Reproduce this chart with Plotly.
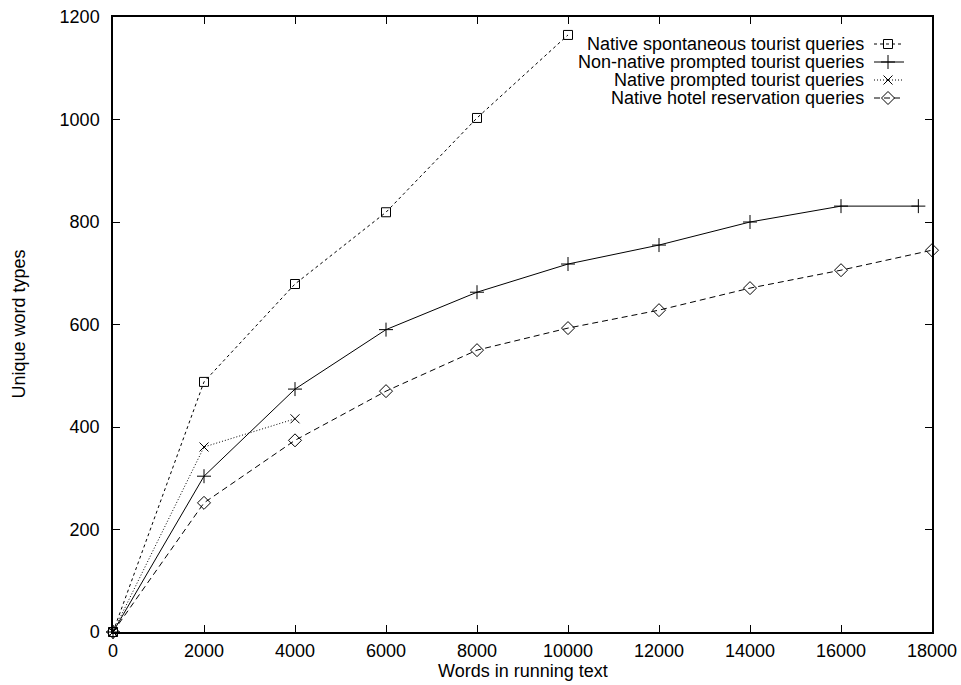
import plotly.graph_objects as go

# Vocabulary growth: unique word types vs. running words
x_spont = [0, 2000, 4000, 6000, 8000, 10000]
y_spont = [0, 488, 679, 819, 1003, 1165]

x_nonnative = [0, 2000, 4000, 6000, 8000, 10000, 12000, 14000, 16000, 17700]
y_nonnative = [0, 304, 474, 590, 663, 718, 755, 800, 831, 831]

x_prompted = [0, 2000, 4000]
y_prompted = [0, 361, 416]

x_hotel = [0, 2000, 4000, 6000, 8000, 10000, 12000, 14000, 16000, 18000]
y_hotel = [0, 252, 374, 470, 550, 593, 628, 671, 706, 745]

names = [
    "Native spontaneous tourist queries",
    "Non-native prompted tourist queries",
    "Native prompted tourist queries",
    "Native hotel reservation queries",
]
x_ticks = list(range(0, 18001, 2000))
x_ticktext = [str(v) for v in x_ticks]
y_ticks = list(range(0, 1201, 200))
y_ticktext = [str(v) for v in y_ticks]

FONT = "Liberation Sans, Arial, sans-serif"
FS = 18
styles = [
    dict(dash="3px,3px", symbol="square-open", size=9),
    dict(dash="solid", symbol="cross-thin-open", size=10),
    dict(dash="1px,2px", symbol="x-thin-open", size=9),
    dict(dash="6px,4px", symbol="diamond-open", size=10),
]
series = [(x_spont, y_spont), (x_nonnative, y_nonnative),
          (x_prompted, y_prompted), (x_hotel, y_hotel)]

fig = go.Figure()
for (xs, ys), name, st in zip(series, names, styles):
    fig.add_trace(go.Scatter(
        x=xs, y=ys, name=name, mode="lines+markers",
        line=dict(color="black", width=1, dash=st["dash"]),
        marker=dict(symbol=st["symbol"], size=st["size"], color="black",
                    line=dict(color="black", width=1)),
        cliponaxis=False, showlegend=False,
    ))

# Key in the upper right: text right-aligned, sample to its right
L, R, T, B = 113, 932, 17, 632
row_y = [44, 62, 80, 98]
for name, st, ry in zip(names, styles, row_y):
    fig.add_trace(go.Scatter(
        x=[874, 904], y=[ry, ry], xaxis="x2", yaxis="y2", mode="lines",
        line=dict(color="black", width=1, dash=st["dash"]),
        showlegend=False, hoverinfo="skip",
    ))
    fig.add_trace(go.Scatter(
        x=[888], y=[ry], xaxis="x2", yaxis="y2", mode="markers",
        marker=dict(symbol=st["symbol"], size=st["size"], color="black",
                    line=dict(color="black", width=1)),
        showlegend=False, hoverinfo="skip",
    ))
    fig.add_annotation(x=866, y=ry, xref="x2", yref="y2", text=name,
                       showarrow=False, xanchor="right", yanchor="middle",
                       font=dict(family=FONT, size=FS, color="black"))

# Axis titles
fig.add_annotation(x=0.5, y=(B - 671) / (B - T), xref="paper", yref="paper",
                   text="Words in running text", showarrow=False,
                   xanchor="center", yanchor="middle",
                   font=dict(family=FONT, size=FS, color="black"))
fig.add_annotation(x=(18 - L) / (R - L), y=0.5, xref="paper", yref="paper",
                   text="Unique word types", showarrow=False, textangle=-90,
                   xanchor="center", yanchor="middle",
                   font=dict(family=FONT, size=FS, color="black"))

axis_common = dict(
    showline=True, mirror="ticks", linecolor="black", linewidth=1.5,
    ticks="inside", ticklen=7, tickcolor="black", tickwidth=1,
    showgrid=False, zeroline=False, automargin=False,
    tickfont=dict(family=FONT, size=FS, color="black"),
)

fig.update_layout(
    width=961, height=685,
    margin=dict(l=L, r=961 - R, t=T, b=685 - B),
    paper_bgcolor="white", plot_bgcolor="white",
    xaxis=dict(range=[0, 18000], tickvals=x_ticks, ticktext=x_ticktext,
               ticklabelstandoff=2, **axis_common),
    yaxis=dict(range=[0, 1200], tickvals=y_ticks, ticktext=y_ticktext,
               ticklabelstandoff=8, **axis_common),
    xaxis2=dict(range=[L, R], overlaying="x", visible=False, fixedrange=True),
    yaxis2=dict(range=[B, T], overlaying="y", visible=False, fixedrange=True),
    showlegend=False,
)

fig.write_html("out.html")
